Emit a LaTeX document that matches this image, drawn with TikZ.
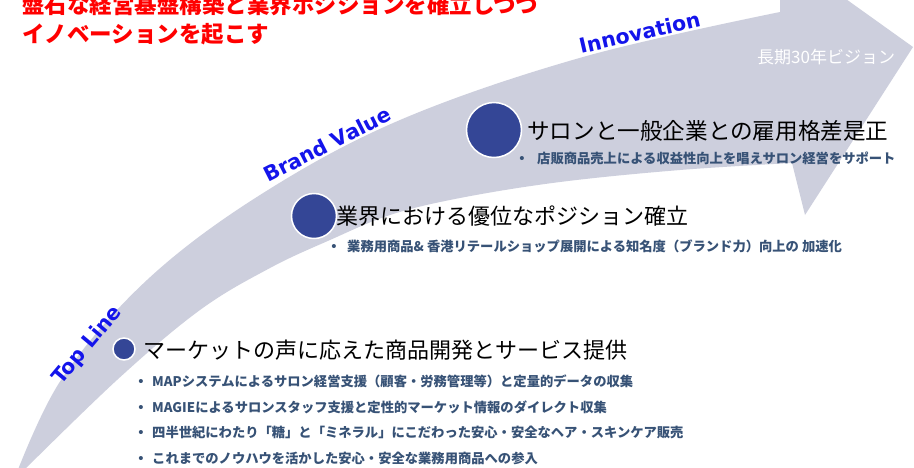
\documentclass[tikz,border=0pt]{standalone}
\usepackage{fontspec}
\setmainfont{Liberation Sans}
\newfontfamily\jp{Noto Sans CJK JP}
\newfontfamily\lat{DejaVu Sans}
\definecolor{band}{RGB}{205,207,221}
\definecolor{dot}{RGB}{52,70,150}
\definecolor{bul}{RGB}{55,82,118}
\definecolor{lbl}{RGB}{20,20,235}
\begin{document}
\begin{tikzpicture}[x=1pt,y=-1pt,
  heading/.style={anchor=west,inner sep=0pt,font=\jp\fontsize{22}{26}\selectfont,text=black},
  bullet/.style={anchor=west,inner sep=0pt,font=\jp\bfseries\fontsize{13.3}{16}\selectfont,text=bul},
  bmark/.style={anchor=center,inner sep=0pt,text=bul,font=\fontsize{15}{16}\selectfont},
  phase/.style={anchor=base west,inner sep=0pt,font=\lat\bfseries\fontsize{20.5}{24}\selectfont,text=lbl},
  milestone/.style={circle,fill=dot,draw=white,line width=1.5pt,inner sep=0pt},
  title/.style={anchor=west,inner sep=0pt,font=\jp\bfseries\fontsize{22.5}{26}\selectfont,text=red}]

\useasboundingbox (0,0) rectangle (914,467);
\fill[white] (0,0) rectangle (914,467);

% curved arrow band
\fill[band] plot[smooth,tension=0.6] coordinates {(14,480) (61,380) (147,280) (260,195) (400,120) (583,57) (780,12)}
  -- (780,-41) -- (790,-41) -- (913,47) -- (805,215) -- (792,163)
  -- plot[smooth,tension=0.6] coordinates {(792,163) (680,170) (560,182) (460,198) (390,215) (330,240) (270,268) (200,310) (117,380) (14,480)}
  -- cycle;

% title
\node[title] (t1) at (22,5) {盤石な経営基盤構築と業界ポジションを確立しつつ};
\node[title] (t2) at (22,34) {イノベーションを起こす};

% phase labels
\node[phase,rotate=13] (innov) at (581,54) {Innovation};
\node[phase,rotate=27] (brand) at (268,183) {Brand Value};
\node[phase,rotate=50] (top) at (61,386) {Top Line};

\node[anchor=west,inner sep=0pt,text=white,font=\jp\fontsize{17}{19}\selectfont] (vision) at (757,57) {長期30年ビジョン};

% milestones
\node[milestone,minimum size=55pt] (m1) at (494,130) {};
\node[milestone,minimum size=45pt] (m2) at (314,216) {};
\node[milestone,minimum size=22pt] (m3) at (124,349) {};

\node[heading,font=\jp\fontsize{22.6}{26}\selectfont] (h1) at (527,131) {サロンと一般企業との雇用格差是正};
\node[heading] (h2) at (336,216) {業界における優位なポジション確立};
\node[heading] (h3) at (143,350) {マーケットの声に応えた商品開発とサービス提供};

\node[bmark] (d1) at (522,160) {•};
\node[bullet] (b1) at (537,158) {店販商品売上による収益性向上を唱えサロン経営をサポート};
\node[bmark] (d2) at (334,248) {•};
\node[bullet] (b2) at (347,246) {業務用商品\& 香港リテールショップ展開による知名度（ブランド力）向上の 加速化};

\node[bmark] (d3) at (141,383) {•};
\node[bullet] (b3) at (152,381) {MAPシステムによるサロン経営支援（顧客・労務管理等）と定量的データの収集};
\node[bmark] (d4) at (141,409) {•};
\node[bullet] (b4) at (152,407) {MAGIEによるサロンスタッフ支援と定性的マーケット情報のダイレクト収集};
\node[bmark] (d5) at (141,434) {•};
\node[bullet] (b5) at (152,432) {四半世紀にわたり「糖」と「ミネラル」にこだわった安心・安全なヘア・スキンケア販売};
\node[bmark] (d6) at (141,460) {•};
\node[bullet] (b6) at (152,458) {これまでのノウハウを活かした安心・安全な業務用商品への参入};
\end{tikzpicture}
\end{document}
